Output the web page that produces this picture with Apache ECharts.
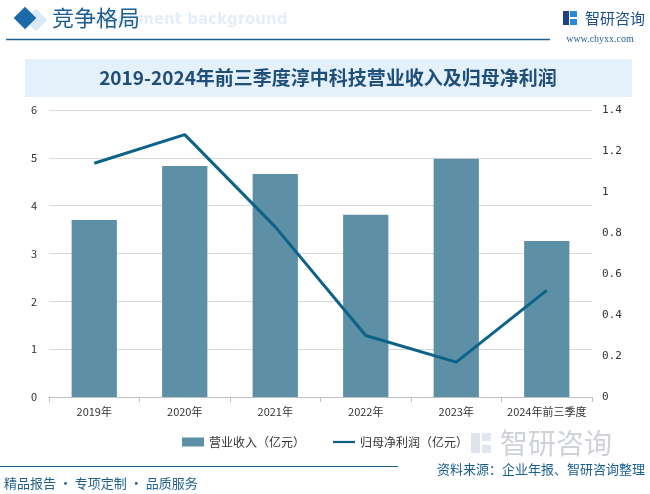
<!DOCTYPE html>
<html>
<head>
<meta charset="utf-8">
<script src="https://cdn.jsdelivr.net/npm/echarts@6/dist/echarts.min.js"></script>
<style>
html,body{margin:0;padding:0;background:#fff;}
#c{width:650px;height:494px;}
</style>
</head>
<body>
<div id="c"></div>
<script>
const categories = ['2019年','2020年','2021年','2022年','2023年','2024年前三季度'];
const revenue = [3.70, 4.83, 4.66, 3.81, 4.98, 3.26];
const netProfit = [1.14, 1.28, 0.83, 0.30, 0.17, 0.52];
const leftTicks = {min: 0, max: 6, interval: 1};
const rightTicks = {min: 0, max: 1.4, interval: 0.2};
const titleText = '2019-2024年前三季度淳中科技营业收入及归母净利润';
const seriesNames = ['营业收入（亿元）', '归母净利润（亿元）'];

const chart = echarts.init(document.getElementById('c'), null, {renderer: 'canvas'});
const cjk = '"Noto Sans CJK SC", "Noto Sans", sans-serif';

chart.setOption({
  animation: false,
  backgroundColor: '#fff',
  textStyle: {fontFamily: cjk},
  graphic: [
    // header diamond
    {type: 'rect', shape: {x: -8, y: -8, width: 16, height: 16}, x: 25, y: 18, rotation: Math.PI / 4,
     style: {fill: '#1a6aa8'}},
    {type: 'rect', shape: {x: -8, y: -8, width: 16, height: 16}, x: 36, y: 20, rotation: Math.PI / 4,
     style: {fill: '#dbe9f5'}, z: -1},
    {type: 'text', x: 82, y: 20, style: {text: 'evelopment background', fill: '#e3eef8', font: 'bold 15px "DejaVu Sans", sans-serif', textVerticalAlign: 'middle'}, z: -1},
    {type: 'text', x: 52, y: 18, style: {text: '竞争格局', fill: '#1d5e91', font: '22px ' + cjk, textVerticalAlign: 'middle'}},
    {type: 'line', shape: {x1: 6, y1: 39.5, x2: 550, y2: 39.5}, style: {stroke: '#1d5e8c', lineWidth: 1.5}},
    // logo top right
    {type: 'rect', shape: {x: 563, y: 11, width: 6, height: 14}, style: {fill: '#1f3f84'}},
    {type: 'rect', shape: {x: 570, y: 11, width: 7, height: 6}, style: {fill: '#2a8ad6'}},
    {type: 'rect', shape: {x: 570, y: 19, width: 7, height: 6}, style: {fill: '#2a8ad6'}},
    {type: 'text', x: 585, y: 18, style: {text: '智研咨询', fill: '#1d4f8a', font: '15px ' + cjk, textVerticalAlign: 'middle'}},
    {type: 'text', x: 600, y: 39, style: {text: 'www.chyxx.com', fill: '#2a5f8e', font: '10px "Liberation Serif", serif', textAlign: 'center', textVerticalAlign: 'middle'}},
    // title band
    {type: 'rect', shape: {x: 25, y: 59, width: 607, height: 38}, style: {fill: '#e4f1fa'}, z: -2},
    {type: 'text', x: 328, y: 78, style: {text: titleText, fill: '#1f4e79', font: 'bold 19px ' + cjk, textAlign: 'center', textVerticalAlign: 'middle'}},
    // watermark logo bottom right
    {type: 'rect', shape: {x: 471, y: 433, width: 9, height: 20}, style: {fill: '#dfe3ea'}, z: -1},
    {type: 'rect', shape: {x: 482, y: 433, width: 9, height: 8}, style: {fill: '#dfe8f2'}, z: -1},
    {type: 'rect', shape: {x: 482, y: 445, width: 9, height: 8}, style: {fill: '#dfe8f2'}, z: -1},
    {type: 'text', x: 500, y: 443, style: {text: '智研咨询', fill: '#cfd2d6', font: '28px ' + cjk, textVerticalAlign: 'middle'}, z: -1},
    // footer
    {type: 'line', shape: {x1: 0, y1: 466.5, x2: 398, y2: 466.5}, style: {stroke: '#1d5e8c', lineWidth: 1}},
    {type: 'text', x: 645, y: 469, style: {text: '资料来源：企业年报、智研咨询整理', fill: '#1a5f8e', font: '13px ' + cjk, textAlign: 'right', textVerticalAlign: 'middle'}},
    {type: 'text', x: 4, y: 483, style: {text: '精品报告 · 专项定制 · 品质服务', fill: '#1f5f8e', font: '13px ' + cjk, textVerticalAlign: 'middle'}}
  ],
  legend: {
    top: 431,
    left: 'center',
    itemGap: 28,
    itemWidth: 22,
    itemHeight: 9,
    textStyle: {fontSize: 12, color: '#333', fontFamily: cjk},
    data: [
      {name: seriesNames[0], icon: 'rect'},
      {name: seriesNames[1], icon: 'path://M0,0 L30,0 L30,3 L0,3 Z'}
    ]
  },
  grid: {left: 49, right: 58, top: 110, bottom: 97, containLabel: false},
  xAxis: {
    type: 'category',
    data: categories,
    axisLine: {lineStyle: {color: '#bfbfbf'}},
    axisTick: {show: true, alignWithLabel: false, length: 5, lineStyle: {color: '#bfbfbf'}},
    axisLabel: {color: '#333', fontSize: 11, margin: 9, interval: 0}
  },
  yAxis: [
    {
      type: 'value', min: leftTicks.min, max: leftTicks.max, interval: leftTicks.interval,
      axisLine: {show: false}, axisTick: {show: false},
      axisLabel: {color: '#333', fontSize: 11, margin: 12},
      splitLine: {lineStyle: {color: '#d9d9d9'}}
    },
    {
      type: 'value', min: rightTicks.min, max: rightTicks.max, interval: rightTicks.interval,
      axisLine: {show: false}, axisTick: {show: false},
      axisLabel: {color: '#333', fontSize: 11, margin: 10, fontFamily: '"DejaVu Sans Mono", monospace',
        formatter: v => String(Math.round(v * 10) / 10)},
      splitLine: {show: false}
    }
  ],
  series: [
    {
      name: seriesNames[0], type: 'bar', data: revenue, yAxisIndex: 0,
      barWidth: '50%', itemStyle: {color: '#5d8fa7'}
    },
    {
      name: seriesNames[1], type: 'line', data: netProfit, yAxisIndex: 1,
      symbol: 'none', lineStyle: {color: '#0c6387', width: 3}, itemStyle: {color: '#0c6387'}
    }
  ]
});
</script>
</body>
</html>
